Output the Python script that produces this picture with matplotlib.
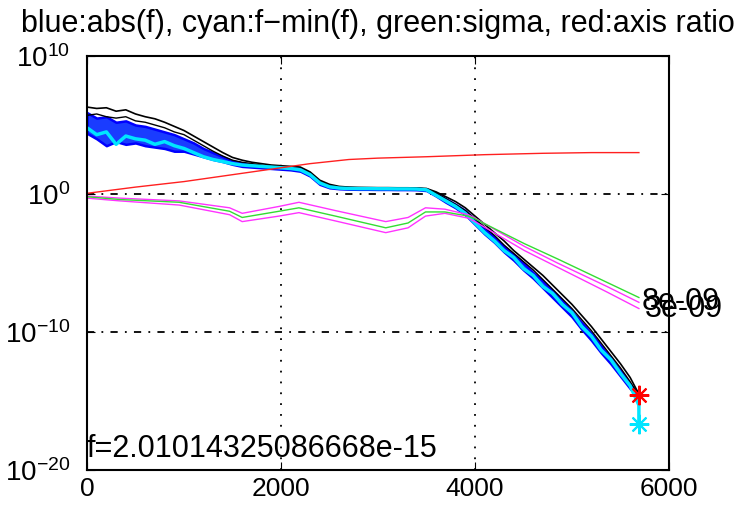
import matplotlib
matplotlib.use("Agg")
import matplotlib.pyplot as plt
from matplotlib.ticker import FixedLocator, NullLocator

plt.rcParams['font.family'] = ['Liberation Sans', 'DejaVu Sans']
plt.rcParams['mathtext.fontset'] = 'custom'
plt.rcParams['mathtext.rm'] = 'Liberation Sans'
plt.rcParams['mathtext.it'] = 'Liberation Sans'

# iteration counts used for the noisy f curves
iters = [0, 100, 200, 300, 400, 500, 600, 700, 800, 900,
         1000, 1100, 1200, 1300, 1400, 1500, 1600, 1700, 1800, 1900,
         2000, 2100, 2200, 2300, 2400, 2500, 2600, 2700, 2800, 2900,
         3000, 3100, 3200, 3300, 3400, 3500, 3600, 3700, 3800, 3900,
         4000, 4100, 4200, 4300, 4400, 4500, 4600, 4700, 4800, 4900,
         5000, 5100, 5200, 5300, 5400, 5500, 5600, 5690]

# log10 values
black_hi = [6.3, 6.2, 6.25, 6.0, 6.1, 5.8, 5.6, 5.45, 5.2, 4.9,
            4.6, 4.2, 3.8, 3.4, 3.0, 2.65, 2.45, 2.3, 2.2, 2.1,
            2.05, 2.0, 1.95, 1.6, 1.0, 0.7, 0.55, 0.5, 0.48, 0.47,
            0.46, 0.46, 0.45, 0.45, 0.44, 0.4, 0.15, -0.2, -0.55, -1.0,
            -1.6, -2.2, -2.8, -3.4, -4.1, -4.7, -5.3, -5.9, -6.6, -7.3,
            -8.0, -8.8, -9.6, -10.5, -11.4, -12.3, -13.3, -14.5]
black_lo = [5.7, 5.8, 5.6, 5.5, 5.6, 5.3, 5.2, 5.0, 4.8, 4.5,
            4.3, 3.9, 3.5, 3.1, 2.75, 2.45, 2.3, 2.2, 2.1, 2.0,
            1.95, 1.9, 1.8, 1.5, 0.9, 0.6, 0.5, 0.47, 0.45, 0.45,
            0.44, 0.44, 0.43, 0.43, 0.42, 0.37, 0.05, -0.35, -0.75, -1.2,
            -1.8, -2.4, -3.0, -3.7, -4.3, -4.9, -5.5, -6.2, -6.9, -7.6,
            -8.3, -9.1, -9.9, -10.8, -11.7, -12.6, -13.6, -14.6]
blue_hi = [5.9, 5.5, 5.6, 5.2, 5.3, 5.0, 4.9, 4.7, 4.5, 4.3,
           4.0, 3.7, 3.3, 3.0, 2.7, 2.4, 2.25, 2.15, 2.05, 2.0,
           1.95, 1.9, 1.85, 1.5, 0.9, 0.6, 0.5, 0.46, 0.45, 0.45,
           0.44, 0.44, 0.43, 0.43, 0.42, 0.36, 0.05, -0.35, -0.75, -1.2,
           -1.85, -2.5, -3.1, -3.8, -4.4, -5.0, -5.7, -6.3, -7.0, -7.7,
           -8.5, -9.3, -10.1, -11.0, -11.9, -12.8, -13.8, -14.5]
blue_lo = [4.4, 4.0, 3.5, 3.8, 3.6, 3.7, 3.5, 3.4, 3.3, 3.1,
           3.1, 2.9, 2.7, 2.5, 2.35, 2.15, 2.0, 1.95, 1.9, 1.85,
           1.8, 1.75, 1.65, 1.3, 0.7, 0.45, 0.38, 0.35, 0.34, 0.34,
           0.33, 0.33, 0.32, 0.32, 0.31, 0.25, -0.15, -0.6, -1.0, -1.5,
           -2.2, -2.9, -3.5, -4.2, -4.8, -5.5, -6.1, -6.8, -7.5, -8.2,
           -8.9, -9.8, -10.6, -11.5, -12.3, -13.2, -14.1, -14.8]
cyan = [4.8, 4.3, 4.5, 3.6, 4.2, 4.0, 3.9, 3.6, 3.8, 3.5,
        3.3, 3.0, 2.7, 2.5, 2.35, 2.2, 2.1, 2.05, 2.0, 1.95,
        1.9, 1.85, 1.75, 1.4, 0.8, 0.52, 0.43, 0.4, 0.39, 0.39,
        0.38, 0.38, 0.37, 0.37, 0.36, 0.3, -0.1, -0.5, -0.9, -1.4,
        -2.1, -2.8, -3.4, -4.1, -4.6, -5.4, -5.9, -6.7, -7.2, -8.0,
        -8.6, -9.6, -10.3, -11.3, -12.0, -13.0, -13.9, -15.3]
cyan_last = -16.7
f_best = -14.6

# smoother curves
red_x = [0, 500, 1000, 1500, 2000, 2300, 2700, 3000, 3500, 4100, 4700, 5200, 5690]
red = [0.05, 0.5, 0.9, 1.4, 1.9, 2.2, 2.5, 2.6, 2.7, 2.85, 2.95, 3.0, 3.0]

sig_x = [0, 340, 950, 1470, 1600, 1980, 2185, 2560, 3080, 3310, 3490, 3690,
         3930, 4000, 4510, 4850, 5360, 5690]
green = [-0.2, -0.4, -0.6, -1.25, -1.7, -1.25, -1.0, -1.6, -2.45, -2.1, -1.3, -1.3,
         -1.6, -1.8, -3.6, -4.7, -6.4, -7.5]
mag_hi = [-0.15, -0.3, -0.5, -1.0, -1.4, -0.9, -0.6, -1.2, -2.0, -1.7, -1.0, -1.1,
          -1.5, -1.75, -3.8, -5.0, -6.7, -7.85]
mag_lo = [-0.3, -0.5, -0.8, -1.5, -2.0, -1.6, -1.35, -1.95, -2.8, -2.45, -1.6, -1.4,
          -1.75, -2.0, -4.1, -5.3, -7.1, -8.3]
end_labels = ["8e-09", "3e-09"]


def p10(v):
    return [10.0 ** a for a in v]


fig = plt.figure(figsize=(7.41, 5.05), dpi=100)
ax = fig.add_axes([0.1174, 0.0693, 0.7854, 0.8198])

ax.semilogy(iters, p10(black_hi), color='k', lw=1.2)
ax.semilogy(iters, p10(black_lo), color='k', lw=1.0)
ax.fill_between(iters, p10(blue_lo), p10(blue_hi), facecolor='#1a3cff', lw=1.8, edgecolor='b')
ax.semilogy(iters + [iters[-1]], p10(cyan + [cyan_last]), color='#00e5ff', lw=2.5)
ax.semilogy(red_x, p10(red), color='#ff2020', lw=1.0)
ax.semilogy(sig_x, p10(mag_hi), color='#ff33ff', lw=1.0)
ax.semilogy(sig_x, p10(mag_lo), color='#ff33ff', lw=1.0)
ax.semilogy(sig_x, p10(green), color='#33dd33', lw=1.0)

ax.plot([iters[-1]], [10 ** f_best], marker=(8, 2, 0), color='r', ms=14, mew=1.5, ls='none')
ax.plot([iters[-1]], [10 ** cyan_last], marker=(8, 2, 0), color='#00e5ff', ms=14, mew=1.5, ls='none')

ax.text(5720, 10 ** mag_hi[-1], end_labels[0], fontsize=22, va='center', ha='left')
ax.text(5750, 10 ** mag_lo[-1], end_labels[1], fontsize=22, va='center', ha='left')
ax.text(0, 10 ** -19.6, "f=2.01014325086668e-15", fontsize=22, va='bottom', ha='left')

ax.set_xlim(0, 6000)
ax.set_ylim(1e-20, 1e10)
ax.set_xticks([0, 2000, 4000, 6000])
ax.yaxis.set_major_locator(FixedLocator([1e-20, 1e-10, 1e0, 1e10]))
ax.yaxis.set_minor_locator(NullLocator())
ax.tick_params(direction='in', top=True, right=True, length=6)
ax.tick_params(axis='x', labelsize=19, pad=5)
ax.tick_params(axis='y', labelsize=20, pad=12)

for v in [2000, 4000]:
    ax.axvline(v, color='k', lw=1.3, ls=(0, (1, 5)), zorder=0)
for v in [1e-10, 1e0]:
    ax.axhline(v, color='k', lw=1.3, ls=(0, (4, 4, 1, 4)), zorder=0)

for s in ax.spines.values():
    s.set_linewidth(1.5)

ax.set_title("blue:abs(f), cyan:f\u2212min(f), green:sigma, red:axis ratio", fontsize=22, pad=17)

fig.savefig("out.png", dpi=100)
